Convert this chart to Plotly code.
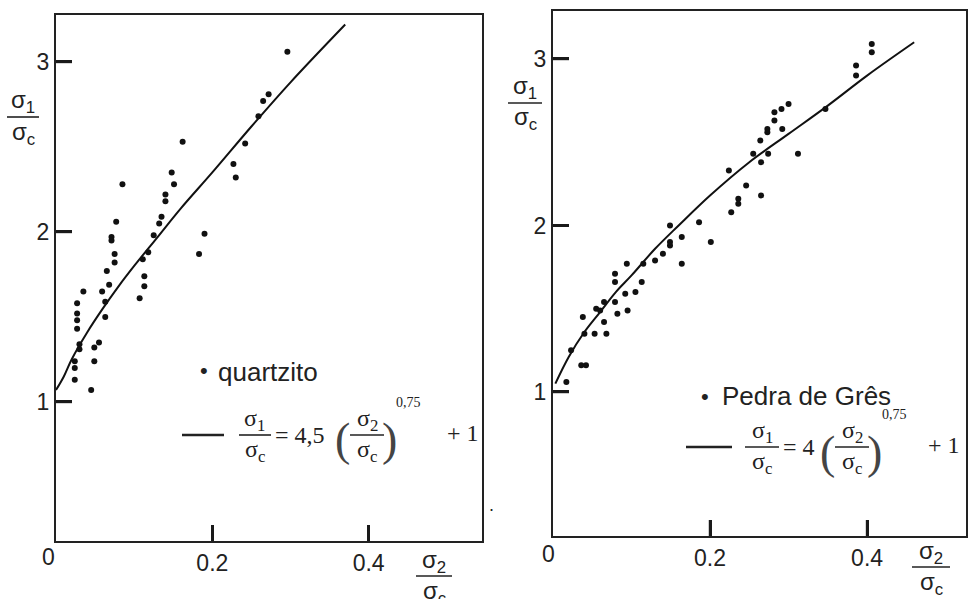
import plotly.graph_objects as go

# ---------------- data ----------------
quartz_x = [0.296, 0.272, 0.265, 0.259, 0.242, 0.227, 0.230, 0.162, 0.148, 0.151,
            0.140, 0.140, 0.135, 0.132, 0.125, 0.118, 0.111, 0.113, 0.113, 0.107,
            0.085, 0.077, 0.071, 0.071, 0.075, 0.075, 0.065, 0.068, 0.059, 0.063,
            0.063, 0.035, 0.027, 0.027, 0.027, 0.027, 0.030, 0.030, 0.024, 0.024,
            0.024, 0.045, 0.055, 0.049, 0.049, 0.183, 0.190]
quartz_y = [3.06, 2.81, 2.77, 2.68, 2.52, 2.40, 2.32, 2.53, 2.35, 2.28,
            2.22, 2.18, 2.09, 2.05, 1.98, 1.88, 1.84, 1.74, 1.68, 1.61,
            2.28, 2.06, 1.97, 1.95, 1.87, 1.82, 1.77, 1.69, 1.65, 1.59,
            1.50, 1.65, 1.58, 1.52, 1.48, 1.43, 1.34, 1.31, 1.24, 1.20,
            1.13, 1.07, 1.35, 1.32, 1.24, 1.87, 1.99]

quartz_fit_x = [0.0, 0.01, 0.02, 0.04, 0.06, 0.08, 0.10, 0.13, 0.16, 0.20, 0.25, 0.30, 0.37]
quartz_fit_y = [1.07, 1.15, 1.25, 1.41, 1.55, 1.68, 1.80, 1.97, 2.14, 2.35, 2.62, 2.88, 3.22]

gres_x = [0.017, 0.023, 0.036, 0.042, 0.038, 0.040, 0.053, 0.055, 0.060, 0.065,
          0.068, 0.065, 0.079, 0.079, 0.079, 0.082, 0.095, 0.094, 0.092, 0.105,
          0.113, 0.115, 0.130, 0.140, 0.149, 0.149, 0.149, 0.164, 0.164, 0.186,
          0.201, 0.224, 0.227, 0.236, 0.236, 0.246, 0.255, 0.265, 0.274, 0.265,
          0.264, 0.273, 0.273, 0.292, 0.282, 0.282, 0.291, 0.300, 0.312, 0.347,
          0.386, 0.386, 0.406, 0.406]
gres_y = [1.06, 1.25, 1.16, 1.16, 1.45, 1.35, 1.35, 1.50, 1.49, 1.42,
          1.35, 1.54, 1.71, 1.66, 1.54, 1.47, 1.49, 1.77, 1.59, 1.60,
          1.66, 1.77, 1.79, 1.83, 2.00, 1.90, 1.88, 1.93, 1.77, 2.02,
          1.90, 2.33, 2.08, 2.16, 2.13, 2.24, 2.43, 2.38, 2.43, 2.18,
          2.51, 2.58, 2.56, 2.58, 2.68, 2.63, 2.70, 2.73, 2.43, 2.70,
          2.96, 2.90, 3.09, 3.04]

gres_fit_x = [0.003, 0.02, 0.04, 0.06, 0.08, 0.10, 0.13, 0.16, 0.20, 0.25, 0.30, 0.35, 0.40, 0.46]
gres_fit_y = [1.05, 1.21, 1.36, 1.48, 1.60, 1.70, 1.86, 2.00, 2.18, 2.38, 2.55, 2.72, 2.90, 3.10]

x_ticks = [0.2, 0.4]
x_tick_labels = ["0.2", "0.4"]
y_ticks = [1, 2, 3]
y_tick_labels = ["1", "2", "3"]

# ---------------- figure ----------------
W, H = 968, 599
def px(x):
    return x / W
def py(y):
    return 1 - y / H

panels = [
    dict(xa="x", ya="y", xr=[0, 0.545], yr=[0.182, 3.276], dom_x=(56, 482), dom_y=(541, 15),
         sx=quartz_x, sy=quartz_y, fx=quartz_fit_x, fy=quartz_fit_y),
    dict(xa="x2", ya="y2", xr=[0, 0.526], yr=[0.135, 3.288], dom_x=(553, 966), dom_y=(536, 11),
         sx=gres_x, sy=gres_y, fx=gres_fit_x, fy=gres_fit_y),
]

fig = go.Figure()
TICK_PX = 16
for p in panels:
    fig.add_trace(go.Scatter(x=p["sx"], y=p["sy"], mode="markers",
                             marker=dict(color="#111", size=6), xaxis=p["xa"], yaxis=p["ya"],
                             showlegend=False))
    fig.add_trace(go.Scatter(x=p["fx"], y=p["fy"], mode="lines",
                             line=dict(color="#111", width=2, shape="spline"),
                             xaxis=p["xa"], yaxis=p["ya"], showlegend=False))
    # inward tick marks, one small line trace per tick
    hpx = p["dom_y"][0] - p["dom_y"][1]
    wpx = p["dom_x"][1] - p["dom_x"][0]
    dy = (p["yr"][1] - p["yr"][0]) * TICK_PX / hpx
    dx = (p["xr"][1] - p["xr"][0]) * TICK_PX / wpx
    for t in x_ticks:
        fig.add_trace(go.Scatter(x=[t, t], y=[p["yr"][0], p["yr"][0] + dy], mode="lines",
                                 line=dict(color="#1a1a1a", width=2.5),
                                 xaxis=p["xa"], yaxis=p["ya"], showlegend=False,
                                 hoverinfo="skip"))
    for t in y_ticks:
        fig.add_trace(go.Scatter(x=[p["xr"][0], p["xr"][0] + dx], y=[t, t], mode="lines",
                                 line=dict(color="#1a1a1a", width=2.5),
                                 xaxis=p["xa"], yaxis=p["ya"], showlegend=False,
                                 hoverinfo="skip"))

tickfont = dict(family="Liberation Sans, Arial, sans-serif", size=23, color="#222")
axis_common = dict(showline=True, mirror=True, linecolor="#222", linewidth=2,
                   ticks="inside", ticklen=16, tickwidth=2.5, tickcolor="#1a1a1a",
                   showgrid=False, zeroline=False, tickfont=tickfont, layer="above traces")

fig.update_layout(
    width=W, height=H, margin=dict(l=0, r=0, t=0, b=0),
    paper_bgcolor="white", plot_bgcolor="white",
    xaxis=dict(domain=[px(56), px(482)], range=panels[0]["xr"], anchor="y",
               tickvals=x_ticks, ticktext=x_tick_labels, **axis_common),
    yaxis=dict(domain=[py(541), py(15)], range=panels[0]["yr"], anchor="x",
               tickvals=y_ticks, ticktext=y_tick_labels, **axis_common),
    xaxis2=dict(domain=[px(553), px(966)], range=panels[1]["xr"], anchor="y2",
                tickvals=x_ticks, ticktext=x_tick_labels, **axis_common),
    yaxis2=dict(domain=[py(536), py(11)], range=panels[1]["yr"], anchor="x2",
                tickvals=y_ticks, ticktext=y_tick_labels, **axis_common),
)

annotations = []
shapes = []
SANS = "Liberation Sans, Arial, sans-serif"
SERIF = "Liberation Serif, Times New Roman, serif"

def text(x, y, s, size=22, family=SANS, xanchor="center", color="#222"):
    annotations.append(dict(xref="paper", yref="paper", x=px(x), y=py(y), text=s,
                            showarrow=False, xanchor=xanchor, yanchor="middle",
                            font=dict(family=family, size=size, color=color)))

def hline(x0, x1, y, width=1.6):
    shapes.append(dict(type="line", xref="paper", yref="paper",
                       x0=px(x0), x1=px(x1), y0=py(y), y1=py(y),
                       line=dict(color="#222", width=width)))

def vline(x, y0, y1, width=2.5):
    shapes.append(dict(type="line", xref="paper", yref="paper",
                       x0=px(x), x1=px(x), y0=py(y0), y1=py(y1),
                       line=dict(color="#1a1a1a", width=width)))

def frac(xc, ybar, num, den, half=17, size=24, family=SANS, gap=15):
    text(xc, ybar - gap, num, size=size, family=family)
    hline(xc - half, xc + half, ybar)
    text(xc, ybar + gap + 1, den, size=size, family=family)

# "0" labels at the origins
text(48, 557, "0", size=23)
text(548, 554, "0", size=23)

# axis titles
frac(23, 117, "σ<sub>1</sub>", "σ<sub>c</sub>", half=16)
frac(434, 576, "σ<sub>2</sub>", "σ<sub>c</sub>", half=18)
frac(525, 103, "σ<sub>1</sub>", "σ<sub>c</sub>", half=17)
frac(931, 567, "σ<sub>2</sub>", "σ<sub>c</sub>", half=19)

# left legend
text(204, 370, "•", size=22)
text(216, 372, "quartzito", size=26, xanchor="left")
hline(182, 224, 435, width=2.5)
frac(255, 435, "σ<sub>1</sub>", "σ<sub>c</sub>", half=16, size=24, family=SERIF)
text(273, 435, "= 4,5", size=24, family=SERIF, xanchor="left")
text(342, 440, "(", size=46, family=SERIF, color="#444")
frac(367, 435, "σ<sub>2</sub>", "σ<sub>c</sub>", half=17, size=24, family=SERIF)
text(389, 440, ")", size=46, family=SERIF, color="#444")
text(394, 402, "0,75", size=14, family=SERIF, xanchor="left")
text(445, 433, "+ 1", size=24, family=SERIF, xanchor="left")

# right legend
text(705, 396, "•", size=22)
text(720, 396, "Pedra de Grês", size=26, xanchor="left")
hline(686, 732, 447, width=2.5)
frac(762, 447, "σ<sub>1</sub>", "σ<sub>c</sub>", half=17, size=24, family=SERIF)
text(781, 447, "= 4", size=24, family=SERIF, xanchor="left")
text(827, 452, "(", size=46, family=SERIF, color="#444")
frac(852, 447, "σ<sub>2</sub>", "σ<sub>c</sub>", half=17, size=24, family=SERIF)
text(874, 452, ")", size=46, family=SERIF, color="#444")
text(880, 414, "0,75", size=14, family=SERIF, xanchor="left")
text(926, 445, "+ 1", size=24, family=SERIF, xanchor="left")

# stray speck from the scan between the panels
text(491, 505, ".", size=18)

fig.update_layout(annotations=annotations, shapes=shapes)
fig.write_html("out.html")
